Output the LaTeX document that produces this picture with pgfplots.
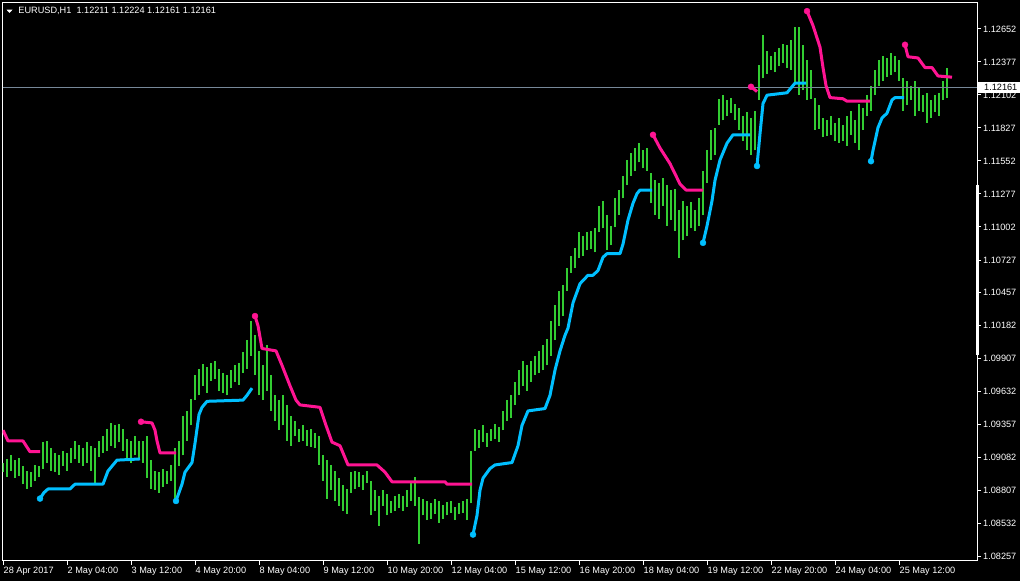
\documentclass[border=0pt]{standalone}
\usepackage{pgfplots}
\pgfplotsset{compat=1.18}
\usepackage{pgfplotstable}
\usepackage{fontspec}
\setmainfont{Liberation Sans}
\definecolor{barG}{RGB}{50,205,50}
\definecolor{upPink}{RGB}{255,20,147}
\definecolor{dnBlue}{RGB}{0,191,255}
\definecolor{lsg}{RGB}{119,136,153}

\pgfplotstableread{
i lo hi
0 1.0896 1.0904
2 1.0892 1.0907
4 1.0897 1.0910
6 1.0891 1.0906
8 1.0893 1.0908
10 1.0886 1.0901
12 1.0882 1.0897
14 1.0884 1.0896
16 1.0889 1.0902
18 1.0892 1.0901
20 1.0899 1.0921
22 1.0904 1.0922
24 1.0897 1.0916
26 1.0896 1.0912
28 1.0894 1.0910
30 1.0901 1.0914
32 1.0897 1.0912
34 1.0904 1.0916
36 1.0907 1.0922
38 1.0904 1.0919
40 1.0901 1.0916
42 1.0904 1.0921
44 1.0897 1.0918
46 1.0887 1.0916
48 1.0909 1.0922
50 1.0912 1.0926
52 1.0914 1.0932
54 1.0918 1.0937
56 1.0916 1.0935
58 1.0921 1.0936
60 1.0914 1.0932
62 1.0907 1.0924
64 1.0904 1.0922
66 1.0910 1.0926
68 1.0906 1.0922
70 1.0904 1.0922
72 1.0891 1.0926
74 1.0882 1.0906
76 1.0881 1.0897
78 1.0879 1.0896
80 1.0884 1.0899
82 1.0886 1.0897
84 1.0889 1.0902
86 1.0872 1.0916
88 1.0901 1.0922
90 1.0910 1.0943
92 1.0922 1.0947
94 1.0935 1.0957
96 1.0956 1.0977
98 1.0960 1.0982
100 1.0968 1.0986
102 1.0962 1.0984
104 1.0972 1.0987
106 1.0974 1.0989
108 1.0964 1.0982
110 1.0962 1.0979
112 1.0960 1.0977
114 1.0966 1.0981
116 1.0971 1.0985
118 1.0969 1.0987
120 1.0979 1.0996
122 1.0982 1.1006
124 1.0993 1.1022
126 1.0977 1.1010
128 1.0960 1.0997
130 1.0956 1.0985
132 1.0964 1.1002
134 1.0947 1.0977
136 1.0939 1.0960
138 1.0931 1.0956
140 1.0935 1.0960
142 1.0922 1.0952
144 1.0918 1.0943
146 1.0926 1.0939
148 1.0921 1.0932
150 1.0922 1.0935
152 1.0918 1.0931
154 1.0917 1.0932
156 1.0916 1.0929
158 1.0902 1.0926
160 1.0889 1.0910
162 1.0874 1.0906
164 1.0881 1.0902
166 1.0872 1.0897
168 1.0868 1.0891
170 1.0864 1.0885
172 1.0861 1.0882
174 1.0879 1.0896
176 1.0882 1.0897
178 1.0884 1.0896
180 1.0881 1.0894
182 1.0887 1.0897
184 1.0860 1.0889
186 1.0864 1.0881
188 1.0851 1.0876
190 1.0868 1.0881
192 1.0860 1.0878
194 1.0862 1.0872
196 1.0864 1.0876
198 1.0866 1.0878
200 1.0864 1.0876
202 1.0867 1.0881
204 1.0872 1.0889
206 1.0868 1.0892
208 1.0836 1.0875
210 1.0860 1.0874
212 1.0856 1.0872
214 1.0857 1.0870
216 1.0861 1.0874
218 1.0854 1.0872
220 1.0857 1.0869
222 1.0860 1.0871
224 1.0862 1.0872
226 1.0856 1.0867
228 1.0861 1.0870
230 1.0862 1.0872
232 1.0856 1.0874
234 1.0870 1.0914
236 1.0914 1.0932
238 1.0916 1.0931
240 1.0921 1.0935
242 1.0917 1.0929
244 1.0922 1.0932
246 1.0924 1.0936
248 1.0921 1.0934
250 1.0931 1.0947
252 1.0939 1.0956
254 1.0941 1.0960
256 1.0952 1.0971
258 1.0960 1.0981
260 1.0968 1.0989
262 1.0964 1.0985
264 1.0971 1.0989
266 1.0977 1.0993
268 1.0979 1.0997
270 1.0981 1.1002
272 1.0985 1.1007
274 1.0993 1.1022
276 1.1006 1.1035
278 1.1018 1.1047
280 1.1026 1.1052
282 1.1047 1.1066
284 1.1062 1.1076
286 1.1066 1.1083
288 1.1074 1.1096
290 1.1076 1.1093
292 1.1081 1.1096
294 1.1082 1.1097
296 1.1079 1.1099
298 1.1096 1.1118
300 1.1099 1.1122
302 1.1081 1.1110
304 1.1085 1.1101
306 1.1100 1.1124
308 1.1110 1.1131
310 1.1124 1.1143
312 1.1135 1.1156
314 1.1143 1.1162
316 1.1147 1.1166
318 1.1154 1.1170
320 1.1149 1.1164
322 1.1147 1.1166
324 1.1120 1.1145
326 1.1110 1.1139
328 1.1107 1.1137
330 1.1118 1.1141
332 1.1101 1.1135
334 1.1106 1.1131
336 1.1097 1.1132
338 1.1074 1.1114
340 1.1089 1.1122
342 1.1093 1.1118
344 1.1099 1.1121
346 1.1097 1.1114
348 1.1101 1.1124
350 1.1110 1.1147
352 1.1137 1.1164
354 1.1156 1.1181
356 1.1160 1.1183
358 1.1185 1.1207
360 1.1189 1.1210
362 1.1193 1.1206
364 1.1195 1.1208
366 1.1189 1.1203
368 1.1181 1.1199
370 1.1172 1.1193
372 1.1164 1.1196
374 1.1160 1.1191
376 1.1164 1.1197
378 1.1206 1.1235
380 1.1224 1.1260
382 1.1228 1.1247
384 1.1231 1.1243
386 1.1229 1.1246
388 1.1234 1.1249
390 1.1237 1.1253
392 1.1233 1.1252
394 1.1231 1.1256
396 1.1221 1.1267
398 1.1210 1.1267
400 1.1214 1.1252
402 1.1206 1.1239
404 1.1207 1.1231
406 1.1181 1.1208
408 1.1182 1.1202
410 1.1175 1.1191
412 1.1176 1.1189
414 1.1177 1.1193
416 1.1172 1.1187
418 1.1170 1.1191
420 1.1172 1.1185
422 1.1168 1.1193
424 1.1177 1.1197
426 1.1170 1.1189
428 1.1164 1.1203
430 1.1181 1.1199
432 1.1193 1.1210
434 1.1197 1.1218
436 1.1210 1.1231
438 1.1218 1.1239
440 1.1222 1.1243
442 1.1225 1.1241
444 1.1227 1.1245
446 1.1229 1.1243
448 1.1222 1.1239
450 1.1197 1.1224
452 1.1202 1.1222
454 1.1206 1.1218
456 1.1193 1.1222
458 1.1197 1.1216
460 1.1196 1.1210
462 1.1187 1.1212
464 1.1191 1.1206
466 1.1196 1.1210
468 1.1193 1.1212
470 1.1206 1.1222
472 1.1208 1.1233
}\bars

\begin{document}
\begin{tikzpicture}
\fill[black] (0,0) rectangle (1020bp,581bp);
\begin{axis}[
  at={(2.5bp,20bp)}, anchor=south west,
  scale only axis, width=974.5bp, height=558.5bp,
  xmin=-0.25, xmax=487, ymin=1.08220, ymax=1.12872,
  axis line style={white, line width=1bp},
  tick style={white, line width=1bp},
  tick align=outside, major tick length=4bp,
  xtick pos=left, ytick pos=right, yticklabel pos=right,
  xtick={0,32,...,448},
  xticklabels={28 Apr 2017, 2 May 04:00, 3 May 12:00, 4 May 20:00, 8 May 04:00, 9 May 12:00, 10 May 20:00, 12 May 04:00, 15 May 12:00, 16 May 20:00, 18 May 04:00, 19 May 12:00, 22 May 20:00, 24 May 04:00, 25 May 12:00},
  ytick={1.08257,1.08532,1.08807,1.09082,1.09357,1.09632,1.09907,1.10182,1.10457,1.10727,1.11002,1.11277,1.11552,1.11827,1.12102,1.12377,1.12652},
  yticklabels={1.08257,1.08532,1.08807,1.09082,1.09357,1.09632,1.09907,1.10182,1.10457,1.10727,1.11002,1.11277,1.11552,1.11827,1.12102,1.12377,1.12652},
  ticklabel style={font=\fontsize{9.2}{10}\selectfont, text=white},
  xticklabel style={anchor=north west, inner sep=0pt, xshift=0.5bp, yshift=-2bp},
  yticklabel style={anchor=west, inner sep=0pt, xshift=2bp},
  clip=true,
]
\addplot[draw=none, mark=none, forget plot,
  error bars/.cd, y dir=plus, y explicit, error mark=none,
  error bar style={draw=barG, line width=1.05bp}]
  table[x=i, y=lo, y error expr=\thisrow{hi}-\thisrow{lo}] {\bars};

\addplot[lsg, line width=0.8bp] coordinates {(-0.25,1.12161) (487,1.12161)};

% upper (pink) stop line
\addplot[upPink, line width=3bp, line join=round] coordinates {(0,1.0931) (2.5,1.0922) (10,1.0922) (13.5,1.0913) (18.5,1.0913)};
\addplot[upPink, line width=3bp, line join=round] coordinates {(69,1.0938) (74.5,1.0937) (76,1.0931) (77,1.0922) (78.5,1.0912) (86.5,1.0912)};
\addplot[upPink, line width=3bp, line join=round] coordinates {(126,1.1026) (127.5,1.1018) (129.5,1.0999) (136.5,1.0997) (139.5,1.0985) (143.5,1.0968) (146.5,1.0956) (148.5,1.0952) (158.5,1.0950) (161.5,1.0935) (164.5,1.0921) (168.5,1.0918) (170.5,1.0910) (172.5,1.0902) (187,1.0902) (191,1.0896) (194.5,1.0888) (221,1.0888) (222,1.0886) (234.5,1.0886)};
\addplot[upPink, line width=3bp, line join=round] coordinates {(325,1.1177) (328.5,1.1166) (333.5,1.1153) (338.5,1.1136) (341.5,1.1131) (350,1.1131)};
\addplot[upPink, line width=3bp, line join=round] coordinates {(374,1.1217) (377,1.1213)};
\addplot[upPink, line width=3bp, line join=round] coordinates {(402,1.1280) (405,1.1268) (408.5,1.1250) (410,1.1233) (411.5,1.1218) (413.5,1.1208) (420,1.1207) (422,1.1205) (433.5,1.1205)};
\addplot[upPink, line width=3bp, line join=round] coordinates {(451,1.1252) (452.5,1.1242) (457.5,1.1241) (461,1.1233) (464.5,1.1233) (467.5,1.1226) (474.5,1.1225)};
\addplot[only marks, mark=*, mark size=3bp, upPink] coordinates {(69,1.0938) (126,1.1026) (325,1.1177) (374,1.1217) (402,1.1280) (451,1.1252)};

% lower (blue) stop line
\addplot[dnBlue, line width=3bp, line join=round] coordinates {(18.5,1.0874) (20.5,1.0879) (22.5,1.0882) (33.5,1.0882) (36,1.0886) (50,1.0886) (52.5,1.0897) (57,1.0906) (68.5,1.0907)};
\addplot[dnBlue, line width=3bp, line join=round] coordinates {(86.5,1.0872) (89.5,1.0886) (91,1.0896) (94.5,1.0904) (96,1.0920) (98,1.0944) (99.5,1.0950) (102,1.0955) (120,1.0956) (122,1.0960) (124.5,1.0966)};
\addplot[dnBlue, line width=3bp, line join=round] coordinates {(235,1.0844) (237,1.0860) (238.5,1.0881) (240,1.0891) (243.5,1.0899) (246,1.0902) (254.5,1.0904) (257.5,1.0918) (259.5,1.0935) (262.5,1.0947) (271,1.0949) (273.5,1.0960) (276,1.0981) (278.5,1.0997) (281,1.1010) (282.5,1.1016) (285,1.1037) (288.5,1.1053) (292.5,1.1060) (295,1.1060) (297.5,1.1064) (300,1.1075) (302,1.1078) (308.5,1.1078) (310,1.1086) (312.5,1.1106) (315,1.1120) (317,1.1128) (318.5,1.1131) (324.5,1.1131)};
\addplot[dnBlue, line width=3bp, line join=round] coordinates {(350,1.1087) (352,1.1101) (354.5,1.1122) (356,1.1139) (358.5,1.1156) (362,1.1170) (365,1.1177) (373.5,1.1177)};
\addplot[dnBlue, line width=3bp, line join=round] coordinates {(377,1.1151) (378.5,1.1178) (380,1.1203) (382,1.1210) (392,1.1212) (394.5,1.1217) (396,1.1220) (401.5,1.1220)};
\addplot[dnBlue, line width=3bp, line join=round] coordinates {(434,1.1155) (435,1.1164) (437.5,1.1183) (439.5,1.1191) (442,1.1195) (444.5,1.1206) (446,1.1208) (450.5,1.1208)};
\addplot[only marks, mark=*, mark size=3bp, dnBlue] coordinates {(18.5,1.0874) (86.5,1.0872) (235,1.0844) (350,1.1087) (377,1.1151) (434,1.1155)};
\end{axis}
% scroll marker on the price scale
\draw[white, line width=3bp] (977.5bp,396bp) -- (977.5bp,226bp);
% current price box
\fill[white] (978bp,488bp) rectangle (1020bp,498.5bp);
\node[anchor=west, inner sep=0pt, text=black, font=\fontsize{9.2}{10}\selectfont] at (984bp,493.2bp) {1.12161};
% header
\fill[white] (6.5bp,571.3bp) -- (12.5bp,571.3bp) -- (9.5bp,568bp) -- cycle;
\node[anchor=west, inner sep=0pt, text=white, font=\fontsize{9.2}{10}\selectfont] at (18.3bp,570bp) {EURUSD,H1\ \ 1.12211 1.12224 1.12161 1.12161};
\pgfresetboundingbox
\path (0,0) rectangle (1020bp,581bp);
\end{tikzpicture}
\end{document}
